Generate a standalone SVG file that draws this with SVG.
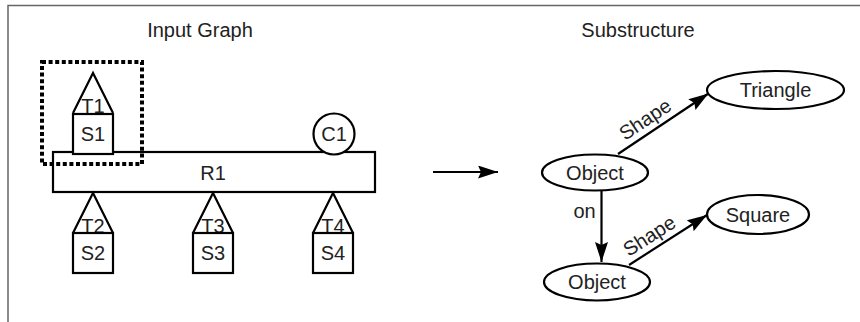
<svg xmlns="http://www.w3.org/2000/svg" width="860" height="322" viewBox="0 0 860 322">
  <style>
    .frame { fill: none; stroke: #666; stroke-width: 1.5; }
    .shape { fill: #fff; stroke: #000; stroke-width: 2.2; }
    .tri { fill: none; stroke: #000; stroke-width: 2.2; stroke-linejoin: miter; }
    .lbl { font-family: "Liberation Sans", Arial, sans-serif; font-size: 20px; fill: #222; text-anchor: middle; }
    .edge { fill: none; stroke: #000; stroke-width: 2.2; }
    .sel { fill: none; stroke: #000; stroke-width: 4; stroke-dasharray: 4 2.6; }
  </style>
  <defs>
    <marker id="head" markerUnits="userSpaceOnUse" markerWidth="22" markerHeight="14" refX="20" refY="6.5" orient="auto">
      <path d="M0,0 L20,6.5 L0,13 L3,6.5 z" fill="#000"/>
    </marker>
  </defs>

  <!-- outer frame (top and left rules only) -->
  <path class="frame" d="M8,322 L8,5.5 L860,5.5"/>

  <!-- titles -->
  <text class="lbl" x="200" y="37">Input Graph</text>
  <text class="lbl" x="638" y="37">Substructure</text>

  <!-- input graph -->
  <g id="R1">
    <rect class="shape" x="53" y="152" width="322" height="40"/>
    <text class="lbl" x="213" y="180">R1</text>
  </g>
  <g id="S1">
    <rect class="shape" x="73" y="114" width="40" height="40"/>
    <text class="lbl" x="93" y="141">S1</text>
  </g>
  <g id="T1">
    <path class="tri" d="M73,113 L93,73 L113,113"/>
    <text class="lbl" x="93" y="113">T1</text>
  </g>
  <g id="C1">
    <circle class="shape" cx="334" cy="134" r="20.5"/>
    <text class="lbl" x="334" y="141">C1</text>
  </g>
  <g id="T2">
    <path class="tri" d="M73,233 L93,193 L113,233"/>
    <text class="lbl" x="93" y="233">T2</text>
  </g>
  <g id="S2">
    <rect class="shape" x="73" y="233" width="40" height="40"/>
    <text class="lbl" x="93" y="260">S2</text>
  </g>
  <g id="T3">
    <path class="tri" d="M193,233 L213,193 L233,233"/>
    <text class="lbl" x="213" y="233">T3</text>
  </g>
  <g id="S3">
    <rect class="shape" x="193" y="233" width="40" height="40"/>
    <text class="lbl" x="213" y="260">S3</text>
  </g>
  <g id="T4">
    <path class="tri" d="M313,233 L333,193 L353,233"/>
    <text class="lbl" x="333" y="233">T4</text>
  </g>
  <g id="S4">
    <rect class="shape" x="313" y="233" width="40" height="40"/>
    <text class="lbl" x="333" y="260">S4</text>
  </g>

  <!-- dotted selection around T1/S1 -->
  <rect id="selection" class="sel" x="42" y="62" width="100" height="102"/>

  <!-- substructure nodes -->
  <g id="Object1">
    <ellipse class="shape" cx="595" cy="172.5" rx="53" ry="18"/>
    <text class="lbl" x="595" y="179.5">Object</text>
  </g>
  <g id="Object2">
    <ellipse class="shape" cx="597" cy="282" rx="53" ry="18.5"/>
    <text class="lbl" x="597" y="289">Object</text>
  </g>
  <g id="Triangle">
    <ellipse class="shape" cx="775.5" cy="90" rx="68.5" ry="19"/>
    <text class="lbl" x="775.5" y="97">Triangle</text>
  </g>
  <g id="Square">
    <ellipse class="shape" cx="758" cy="214.5" rx="51" ry="19.5"/>
    <text class="lbl" x="758" y="221.5">Square</text>
  </g>

  <!-- connectors -->
  <g id="connectors">
    <line class="edge" x1="433" y1="172" x2="498" y2="172" marker-end="url(#head)"/>
    <line class="edge" x1="618" y1="154" x2="708.5" y2="93.5" marker-end="url(#head)"/>
    <line class="edge" x1="601.5" y1="191" x2="601.5" y2="262" marker-end="url(#head)"/>
    <line class="edge" x1="629" y1="265" x2="707" y2="215" marker-end="url(#head)"/>
    <text class="lbl" transform="translate(649,125) rotate(-33.7)">Shape</text>
    <text class="lbl" x="584.5" y="218">on</text>
    <text class="lbl" transform="translate(653,241.5) rotate(-32.7)">Shape</text>
  </g>
</svg>
